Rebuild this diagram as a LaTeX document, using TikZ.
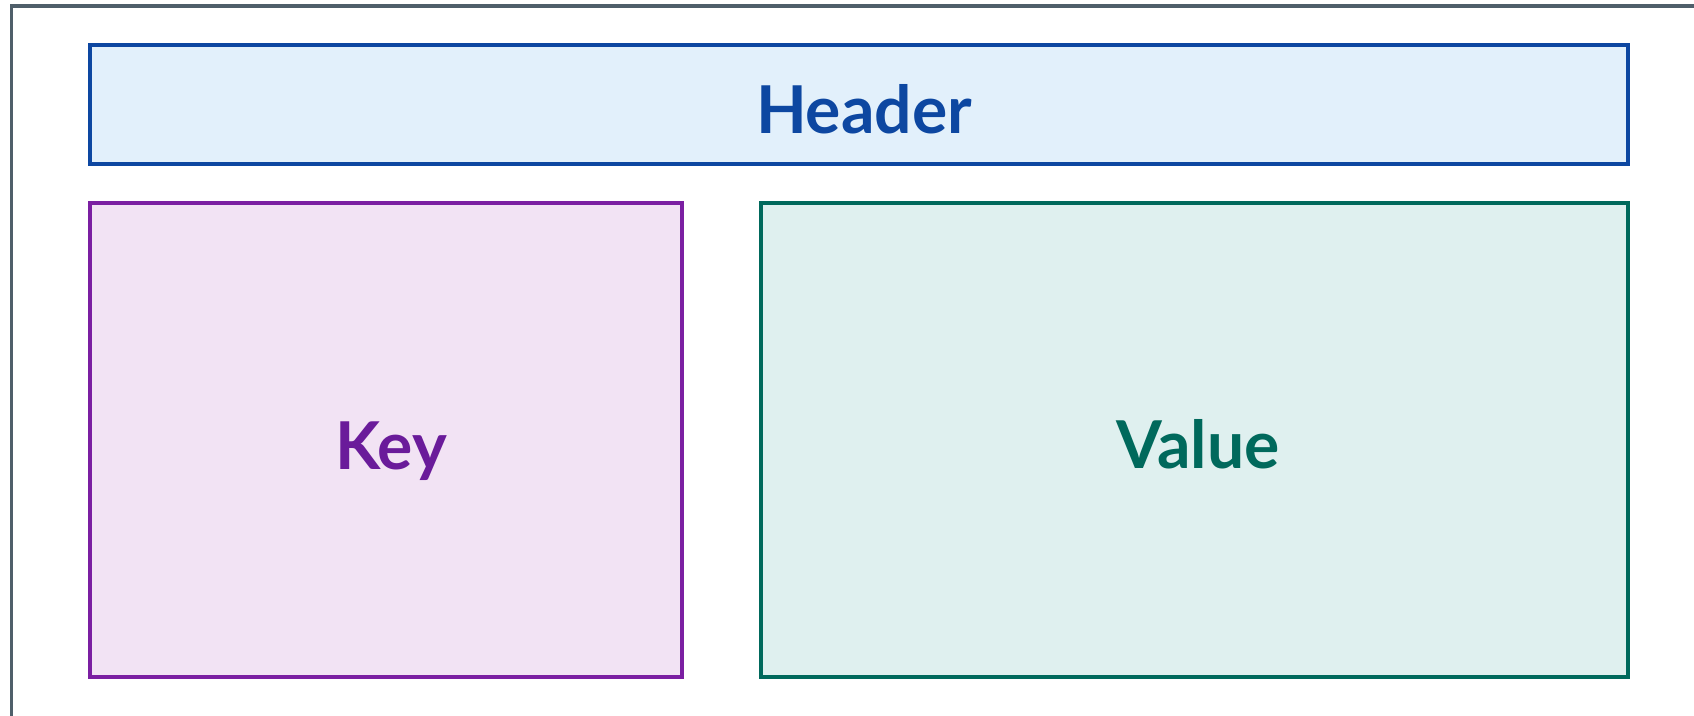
\documentclass[tikz,border=0pt]{standalone}
\usepackage{fontspec}
\setmainfont{Lato}
\definecolor{frameC}{HTML}{4F5F6A}
\definecolor{hdrFill}{HTML}{E2F0FB}
\definecolor{hdrLine}{HTML}{0D47A1}
\definecolor{keyFill}{HTML}{F2E3F4}
\definecolor{keyLine}{HTML}{7B1FA2}
\definecolor{keyText}{HTML}{6A1B9A}
\definecolor{valFill}{HTML}{DFF0EF}
\definecolor{valLine}{HTML}{00695C}
\begin{document}
\begin{tikzpicture}[x=1pt,y=-1pt,
  part/.style={line width=3.5pt},
  lbl/.style={font=\fontsize{66}{72}\selectfont\bfseries, anchor=base, inner sep=0pt}]
\useasboundingbox (0,0) rectangle (1694,715);
% outer frame, running past the right and bottom edges
\begin{scope}
\clip (0,0) rectangle (1694,715);
\draw[frameC, line width=3.5pt] (11.5,6) rectangle (1730,760);
\end{scope}
\draw[part, draw=hdrLine, fill=hdrFill] (90,45) rectangle (1628,164);
\draw[part, draw=keyLine, fill=keyFill] (90,203) rectangle (682,677);
\draw[part, draw=valLine, fill=valFill] (761,203) rectangle (1628,677);
\node[lbl, text=hdrLine] (header) at (864,133) {Header};
\node[lbl, text=keyText] (key) at (391,469) {Key};
\node[lbl, text=valLine] (value) at (1198,468) {Value};
\end{tikzpicture}
\end{document}
